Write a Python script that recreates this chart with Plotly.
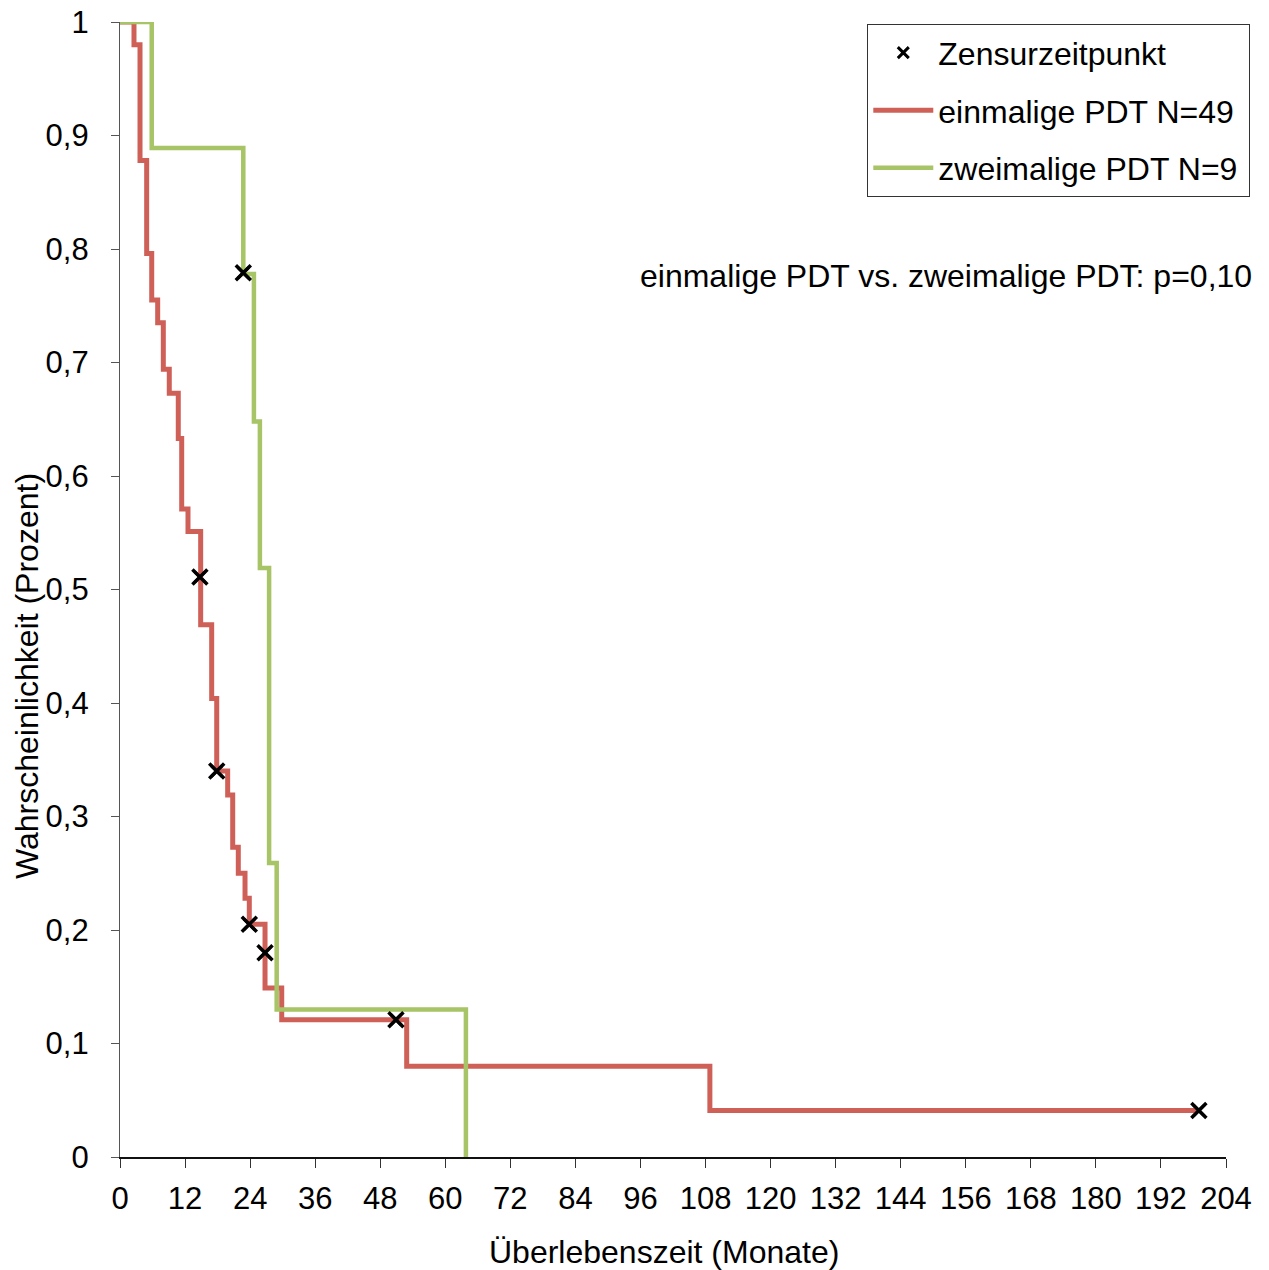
import plotly.graph_objects as go

# ---- data ----
red_t = [0, 2.58, 3.69, 4.92, 5.85, 6.95, 7.99, 9.09, 10.75, 11.38, 12.54, 14.88, 14.88, 16.91, 17.84,
         19.86, 20.79, 21.82, 23.06, 23.85, 26.75, 26.75, 29.83, 52.88, 108.8, 199.0]
red_s = [1.0, 0.980, 0.878, 0.796, 0.755, 0.735, 0.694, 0.673, 0.633, 0.571, 0.551, 0.510, 0.469, 0.404, 0.340,
         0.319, 0.273, 0.250, 0.228, 0.205, 0.180, 0.149, 0.121, 0.080, 0.041, 0.041]

green_t = [0, 5.85, 22.74, 24.7, 25.8, 27.5, 28.9, 63.8]
green_s = [1.0, 0.889, 0.778, 0.648, 0.519, 0.259, 0.130, 0.0]

cens_t = [14.74, 17.84, 23.85, 26.75, 50.9, 199.0, 22.74]
cens_s = [0.511, 0.340, 0.205, 0.180, 0.121, 0.041, 0.779]

x_ticks = list(range(0, 205, 12))
y_ticks = [0, 0.1, 0.2, 0.3, 0.4, 0.5, 0.6, 0.7, 0.8, 0.9, 1.0]
y_labels = ["0", "0,1", "0,2", "0,3", "0,4", "0,5", "0,6", "0,7", "0,8", "0,9", "1"]

RED = "#CF6058"
GREEN = "#A7C466"
FONT = "Liberation Sans, Arial, sans-serif"
FS = 32
TFS = 31

fig = go.Figure()

fig.add_trace(go.Scatter(x=cens_t, y=cens_s, mode="markers", name="Zensurzeitpunkt",
                         legendgroup="a", legendrank=1,
                         marker=dict(symbol="x-thin", size=11, color="black",
                                     line=dict(width=3, color="black")),
                         hoverinfo="skip"))
fig.add_trace(go.Scatter(x=red_t, y=red_s, mode="lines", name="einmalige PDT N=49\u00a0",
                         legendgroup="b", legendrank=2,
                         line=dict(color=RED, width=5, shape="hv")))
fig.add_trace(go.Scatter(x=green_t, y=green_s, mode="lines", name="zweimalige PDT N=9",
                         legendgroup="c", legendrank=3,
                         line=dict(color=GREEN, width=4.5, shape="hv")))
# censor marks drawn on top
fig.add_trace(go.Scatter(x=cens_t, y=cens_s, mode="markers", showlegend=False,
                         marker=dict(symbol="x-thin", size=15, color="black",
                                     line=dict(width=3.5, color="black"))))

fig.update_layout(
    width=1269, height=1270,
    margin=dict(l=120, r=43, t=22, b=113),
    plot_bgcolor="white", paper_bgcolor="white",
    font=dict(family=FONT, size=FS, color="black"),
    showlegend=True,
    legend=dict(x=0.6754, y=0.9982, xanchor="left", yanchor="top",
                bordercolor="#333333", borderwidth=1.3, bgcolor="white",
                font=dict(family=FONT, size=FS, color="black"),
                itemwidth=60, tracegroupgap=13, traceorder="grouped"),
    xaxis=dict(range=[0, 204], tickvals=x_ticks, ticks="outside", ticklen=9, tickwidth=1.3,
               tickcolor="#333333", showline=True, linecolor="#111111", linewidth=1.6,
               showgrid=False, zeroline=False, ticklabelstandoff=4, automargin=False,
               tickfont=dict(family=FONT, size=TFS)),
    yaxis=dict(range=[0, 1], tickvals=y_ticks, ticktext=y_labels, ticks="outside", ticklen=8,
               tickwidth=1.3, tickcolor="#555555", showline=True, linecolor="#555555",
               linewidth=1.3, showgrid=False, zeroline=False, ticklabelstandoff=16,
               automargin=False, tickfont=dict(family=FONT, size=TFS)),
    annotations=[
        dict(text="einmalige PDT vs. zweimalige PDT: p=0,10", xref="paper", yref="paper",
             x=(1254 - 120) / 1106, y=(1157 - 276) / 1135, xanchor="right", yanchor="middle",
             showarrow=False, font=dict(family=FONT, size=FS)),
        dict(text="Überlebenszeit (Monate)", xref="paper", yref="paper",
             x=(664 - 120) / 1106, y=(1157 - 1252) / 1135, xanchor="center", yanchor="middle",
             showarrow=False, font=dict(family=FONT, size=FS)),
        dict(text="Wahrscheinlichkeit (Prozent)", xref="paper", yref="paper",
             x=(27 - 120) / 1106, y=(1157 - 676) / 1135, xanchor="center", yanchor="middle",
             textangle=-90, showarrow=False, font=dict(family=FONT, size=FS)),
    ],
)

fig.write_html("out.html")
